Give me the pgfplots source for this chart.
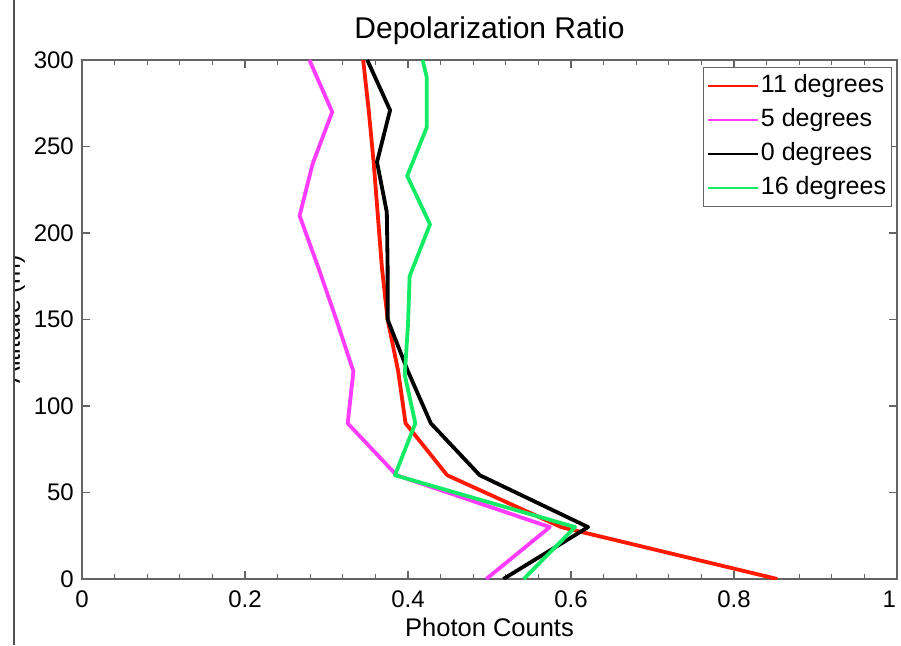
\documentclass[border=0pt]{standalone}
\usepackage{pgfplots}
\pgfplotsset{compat=1.18}
\usepackage{fontspec}
\setmainfont{Liberation Sans}
\definecolor{cred}{RGB}{255,25,0}
\definecolor{cmag}{RGB}{255,60,255}
\definecolor{cgrn}{RGB}{20,235,100}
\definecolor{axgray}{RGB}{100,100,100}
\begin{document}
\begin{tikzpicture}
\path[use as bounding box] (-82pt,-66pt) rectangle (819pt,579pt);
\begin{scope}
\clip (-68pt,-66pt) rectangle (819pt,579pt);
\begin{axis}[
  at={(0pt,0pt)}, anchor=south west,
  scale only axis, width=815pt, height=519pt,
  xmin=0, xmax=1, ymin=0, ymax=300,
  xtick={0,0.2,0.4,0.6,0.8,1},
  xticklabels={0,0.2,0.4,0.6,0.8,\makebox[0pt][r]{1\hspace{1pt}}},
  ytick={0,50,100,150,200,250,300},
  yticklabels={0,50,100,150,200,250,300},
  minor x tick num=4,
  tick align=inside,
  major tick length=8pt, minor tick length=5pt,
  axis line style={axgray, line width=1.3pt},
  every tick/.style={axgray, line width=1.1pt},
  ticklabel style={font=\fontsize{24}{24}\selectfont},
  xticklabel style={inner sep=0pt, anchor=north, yshift=-12pt},
  yticklabel style={inner sep=0pt, anchor=east, xshift=-8pt},
  title={Depolarization Ratio},
  title style={font=\fontsize{30}{30}\selectfont, at={(axis description cs:0.5,1)}, anchor=base, yshift=15pt, inner sep=0pt},
  xlabel={Photon Counts},
  xlabel style={font=\fontsize{25.5}{25.5}\selectfont, at={(axis description cs:0.5,0)}, anchor=base, yshift=-57pt, inner sep=0pt},
  ylabel={Altitude (m)},
  ylabel style={font=\fontsize{25}{25}\selectfont, at={(rel axis cs:-0.0761,0.5)}, anchor=base, inner sep=0pt},
  legend style={at={(rel axis cs:0.994,0.9865)}, anchor=north east,
    draw=axgray, line width=1.1pt, font=\fontsize{25}{25}\selectfont,
    inner sep=4pt, row sep=5.5pt,
    nodes={text height=19.5pt, text depth=6pt, inner sep=1.5pt, anchor=west}},
  legend cell align=left,
  legend image code/.code={\draw[#1, line width=2.2pt] (0pt,0pt) -- (50pt,0pt);},
  every axis plot/.append style={line width=3.8pt, line join=round},
]
\addplot[cred] coordinates {(0.853,0) (0.588,30) (0.448,60) (0.397,90) (0.388,120) (0.375,150) (0.368,180) (0.363,210) (0.358,240) (0.352,270) (0.345,300)};
\addlegendentry{11 degrees}
\addplot[cmag] coordinates {(0.496,0) (0.574,30) (0.386,60) (0.326,90) (0.333,120) (0.312,150) (0.290,180) (0.267,210) (0.283,240) (0.307,270) (0.279,300)};
\addlegendentry{5 degrees}
\addplot[black] coordinates {(0.517,0) (0.621,30) (0.488,60) (0.428,90) (0.400,120) (0.375,150) (0.375,180) (0.374,212) (0.362,241) (0.378,271) (0.350,300)};
\addlegendentry{0 degrees}
\addplot[cgrn] coordinates {(0.542,0) (0.605,30) (0.384,60) (0.409,90) (0.396,118) (0.400,147) (0.402,175) (0.427,205) (0.399,233) (0.423,261) (0.423,290) (0.418,300)};
\addlegendentry{16 degrees}
\end{axis}
\end{scope}
\draw[axgray!80!black, line width=2pt] (-68pt,-66pt) -- (-68pt,579pt);
\end{tikzpicture}
\end{document}
